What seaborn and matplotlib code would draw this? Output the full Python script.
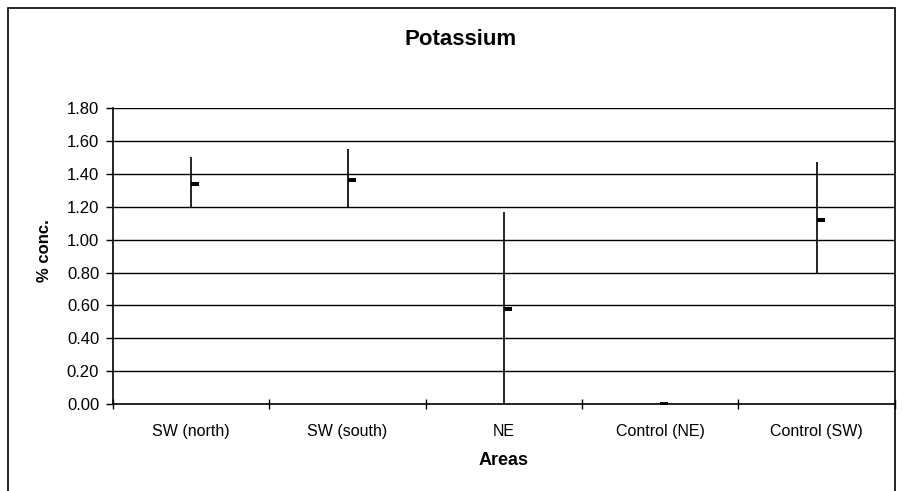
import numpy as np
import pandas as pd
import matplotlib
matplotlib.use('Agg')
import matplotlib.pyplot as plt
from matplotlib.path import Path
from matplotlib.patches import Rectangle
import seaborn as sns

# Data
areas = ['SW (north)', 'SW (south)', 'NE', 'Control (NE)', 'Control (SW)']
mean_conc = [1.34, 1.36, 0.58, 0.00, 1.12]
low_conc = [1.20, 1.20, 0.00, 0.00, 0.79]
high_conc = [1.50, 1.55, 1.17, 0.00, 1.47]
y_ticks = [0.0, 0.2, 0.4, 0.6, 0.8, 1.0, 1.2, 1.4, 1.6, 1.8]

df = pd.DataFrame({'area': areas, 'mean': mean_conc, 'low': low_conc, 'high': high_conc})

sns.set_theme(style='white')
plt.rcParams['font.family'] = ['Liberation Sans', 'DejaVu Sans']
plt.rcParams['text.color'] = 'black'
plt.rcParams['axes.labelcolor'] = 'black'
plt.rcParams['xtick.color'] = 'black'
plt.rcParams['ytick.color'] = 'black'

fig = plt.figure(figsize=(9.08, 4.91), dpi=100)
ax = fig.add_axes([0.1245, 0.177, 0.861, 0.603])

# horizontal gridlines
for yv in y_ticks[1:]:
    ax.axhline(yv, color='black', lw=1.0, zorder=1)

# range lines
x_pos = np.arange(len(df))
ax.vlines(x_pos, df['low'], df['high'], color='black', lw=1.2, zorder=2)

# mean marks: short dash starting at the line, pointing right
dash = Path([(0, -0.28), (1, -0.28), (1, 0.28), (0, 0.28), (0, -0.28)],
            [Path.MOVETO, Path.LINETO, Path.LINETO, Path.LINETO, Path.CLOSEPOLY])
sns.scatterplot(data=df, x='area', y='mean', marker=dash, s=120, color='black',
                edgecolor='black', linewidth=0, ax=ax, zorder=3)

ax.set_xlim(-0.5, len(areas) - 0.5)
ax.set_ylim(0, 1.8)
ax.set_yticks(y_ticks)
ax.set_yticklabels([f'{v:.2f}' for v in y_ticks], fontsize=12)
ax.set_xticks(x_pos)
ax.set_xticklabels(areas, fontsize=11.5)
ax.set_xticks(np.arange(-0.5, len(areas), 1.0), minor=True)
ax.tick_params(axis='x', which='major', length=0, pad=14, bottom=True)
ax.tick_params(axis='x', which='minor', length=7, direction='inout', width=1,
               color='black', bottom=True)
ax.tick_params(axis='y', which='major', length=5, direction='out', width=1,
               color='black', left=True, pad=5)

for side in ['top', 'right']:
    ax.spines[side].set_visible(False)
for side in ['left', 'bottom']:
    ax.spines[side].set_color('black')
    ax.spines[side].set_linewidth(1.2)

ax.set_xlabel('Areas', fontsize=13, fontweight='bold', labelpad=10)
ax.set_ylabel('% conc.', fontsize=12, fontweight='bold', labelpad=8)
ax.yaxis.set_label_coords(-0.078, 0.52)

fig.text(0.507, 0.92, 'Potassium', ha='center', va='center', fontsize=16, fontweight='bold')

# outer chart border
fig.patches.append(Rectangle((8 / 908, -0.05), (895 - 8) / 908, 1 - 8 / 491 + 0.05,
                             transform=fig.transFigure, fill=False, edgecolor='black', lw=1.2))

fig.savefig('out.png', dpi=100)
